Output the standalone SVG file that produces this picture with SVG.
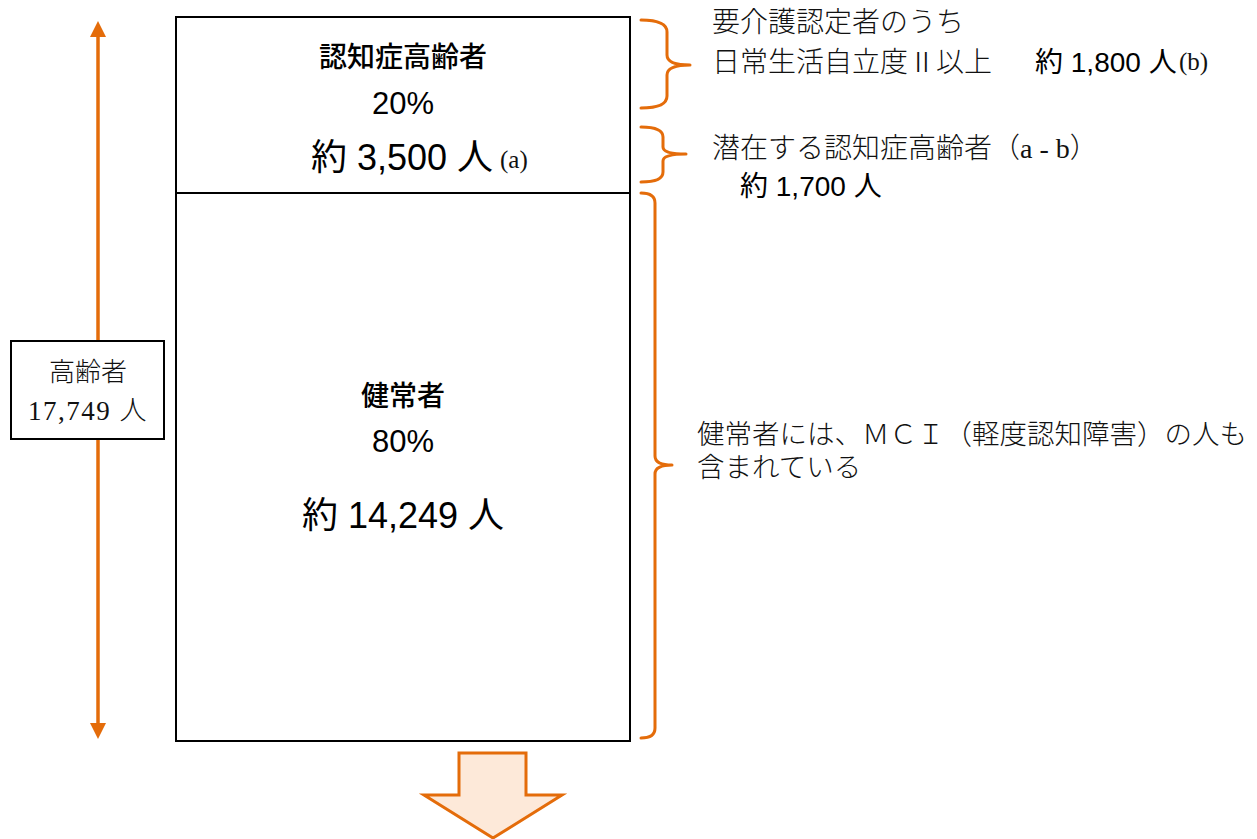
<svg xmlns="http://www.w3.org/2000/svg" width="1257" height="839" viewBox="0 0 1257 839">
  <style>
    .gothic { font-family: "Liberation Sans", "Noto Sans CJK JP", sans-serif; fill: #000; }
    .mincho { font-family: "Liberation Serif", "Noto Sans CJK JP", serif; fill: #111; font-weight: 300; }
    .cjk { font-family: "Noto Sans CJK JP", sans-serif; }
    .box { fill: #fff; stroke: #000; stroke-width: 2; }
    .brace { fill: none; stroke: #E46C0A; stroke-width: 3; stroke-linecap: round; stroke-linejoin: round; }
    .orange-line { stroke: #E46C0A; stroke-width: 3.5; }
    .head { fill: #E46C0A; }
  </style>

  <rect width="1257" height="839" fill="#fff"/>

  <g id="connectors">
    <line class="orange-line" x1="98" y1="34" x2="98" y2="726"/>
    <polygon class="head" points="98,21 106,37 90,37"/>
    <polygon class="head" points="98,739 106,723 90,723"/>
    <path class="brace" d="M641,20 Q667,20 667,32 L667,55 Q667,65 690,65 M690,65 Q667,65 667,75 L667,96 Q667,108 641,108"/>
    <path class="brace" d="M641,127 Q663,127 663,137 L663,147 Q663,154 686,154 M686,154 Q663,154 663,161 L663,172 Q663,182 641,182"/>
    <path class="brace" d="M641,193 Q655,193 655,203 L655,456 Q655,465 672,465 M672,465 Q655,465 655,474 L655,728 Q655,738 641,738"/>
  </g>

  <g id="main-box">
    <rect class="box" x="176" y="17" width="454" height="724"/>
    <line x1="176" y1="193" x2="630" y2="193" stroke="#000" stroke-width="2"/>
  </g>

  <g id="node-dementia">
    <text class="gothic" x="403" y="67" font-size="28" text-anchor="middle" font-weight="500">認知症高齢者</text>
    <text class="gothic" x="403" y="114" font-size="31" text-anchor="middle">20%</text>
    <text class="gothic" x="311" y="170" font-size="36">約 3,500 人</text>
    <text class="mincho" x="500" y="168" font-size="25">(a)</text>
  </g>

  <g id="node-healthy">
    <text class="gothic" x="403" y="406" font-size="28" text-anchor="middle" font-weight="500">健常者</text>
    <text class="gothic" x="403" y="452" font-size="31" text-anchor="middle">80%</text>
    <text class="gothic" x="403" y="528" font-size="36" text-anchor="middle">約 14,249 人</text>
  </g>

  <g id="node-elderly">
    <rect class="box" x="11" y="341" width="153" height="98"/>
    <text class="mincho" x="88" y="381" font-size="26" text-anchor="middle">高齢者</text>
    <text class="mincho" x="88" y="420" font-size="27" text-anchor="middle" letter-spacing="1.5">17,749 人</text>
  </g>

  <g id="note-certified">
    <text class="mincho" x="712" y="32" font-size="28">要介護認定者のうち</text>
    <text class="mincho" x="712" y="72" font-size="28">日常生活自立度<tspan class="cjk">Ⅱ</tspan>以上</text>
    <text class="gothic" x="1035" y="72" font-size="28">約 1,800 人</text>
    <text class="mincho" x="1179" y="70" font-size="25">(b)</text>
  </g>

  <g id="note-latent">
    <text class="mincho" x="712" y="158" font-size="28">潜在する認知症高齢者（a - b）</text>
    <text class="gothic" x="740" y="196" font-size="28">約 1,700 人</text>
  </g>

  <g id="note-mci">
    <text class="mincho" x="697" y="444" font-size="27.5">健常者には、ＭＣＩ（軽度認知障害）の人も</text>
    <text class="mincho" x="697" y="477" font-size="27.5">含まれている</text>
  </g>

  <g id="down-arrow">
    <polygon points="459,753 526,753 526,795 562,795 493,838 424,795 459,795" fill="#FDE9D9" stroke="#E46C0A" stroke-width="3" stroke-linejoin="miter"/>
  </g>
</svg>
